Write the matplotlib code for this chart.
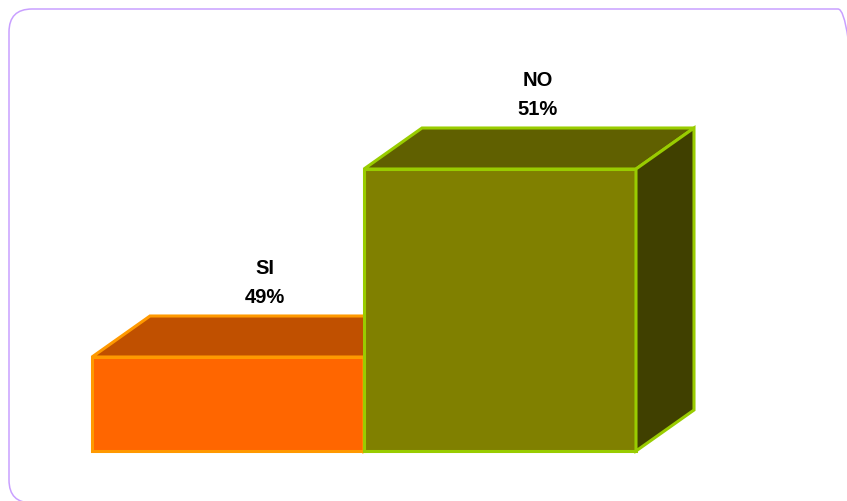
import matplotlib.pyplot as plt
from matplotlib.patches import Polygon, FancyBboxPatch

plt.rcParams['font.family'] = ['Liberation Sans', 'DejaVu Sans']

categorias = ['SI', 'NO']
porcentajes = [49, 51]

# colores de cada barra: frente, tapa, lateral, borde
frente = ['#FF6600', '#808000']
tapa = ['#C05000', '#606000']
lateral = ['#803300', '#404000']
borde = ['#FF9900', '#99CC00']

fig = plt.figure(figsize=(8.47, 5.01), dpi=100)
ax = fig.add_axes([92 / 847, 50 / 501, 680 / 847, 376 / 501])
ax.set_xlim(-0.5, 2.0)
ax.set_ylim(48, 52)
ax.axis('off')

# profundidad del efecto 3d, en pixeles
prof_x, prof_y = 58, 41
px_x = ax.get_position().width * 847 / (ax.get_xlim()[1] - ax.get_xlim()[0])
px_y = ax.get_position().height * 501 / (ax.get_ylim()[1] - ax.get_ylim()[0])
dx = prof_x / px_x
dy = prof_y / px_y

base = ax.get_ylim()[0]
ancho = 1.0
for i, (cat, val) in enumerate(zip(categorias, porcentajes)):
    x0 = i - ancho / 2
    x1 = i + ancho / 2
    caras = [
        ([(x0, base), (x1, base), (x1, val), (x0, val)], frente[i]),
        ([(x0, val), (x1, val), (x1 + dx, val + dy), (x0 + dx, val + dy)], tapa[i]),
        ([(x1, base), (x1 + dx, base + dy), (x1 + dx, val + dy), (x1, val)], lateral[i]),
    ]
    for pts, color in caras:
        ax.add_patch(Polygon(pts, closed=True, facecolor=color, edgecolor=borde[i],
                             linewidth=2.2, joinstyle='miter', clip_on=False))
    ax.annotate('%s\n%d%%' % (cat, val), xy=(i + dx / 2, val + dy),
                xytext=(6, 6.5), textcoords='offset points', ha='center', va='bottom',
                fontsize=14.5, fontweight='bold', linespacing=1.65,
                annotation_clip=False)

# marco redondeado del grafico
marco = FancyBboxPatch((0.09, -0.02), 8.52, 4.94,
                       boxstyle='round,pad=0,rounding_size=0.23',
                       transform=fig.dpi_scale_trans, facecolor='none',
                       edgecolor='#C9A0FF', linewidth=1.1)
fig.add_artist(marco)

fig.savefig('out.png', dpi=100)
